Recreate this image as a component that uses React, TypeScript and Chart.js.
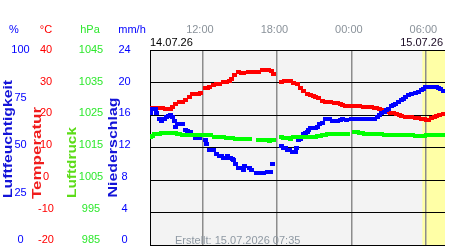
import React, { useEffect, useRef } from "react";
import { Chart, registerables } from "chart.js";

Chart.register(...registerables);

const FONT = "'Liberation Sans', Arial, sans-serif";

// time axis: hours since 14.07.26 00:00
const X_MIN = 7.78;
const X_MAX = 31.54;
const HIGHLIGHT_FROM = 29.72;
const TIME_TICKS = [12, 18, 24, 30];
const TIME_LABELS = ["12:00", "18:00", "00:00", "06:00"];
const DATE_START = "14.07.26";
const DATE_END = "15.07.26";
const CREATED = "Erstellt: 15.07.2026 07:35";

const HUM_TICKS = [100, 75, 50, 25, 0];
const TEMP_TICKS = [40, 30, 20, 10, 0, -10, -20];
const PRES_TICKS = [1045, 1035, 1025, 1015, 1005, 995, 985];
const RAIN_TICKS = [24, 20, 16, 12, 8, 4, 0];

const tempTimes = [7.86, 8.17, 8.49, 8.81, 9.05, 9.28, 9.44, 9.6, 9.84, 10.15, 10.39, 10.63, 10.94, 11.18, 11.42, 11.66, 11.82, 12.21, 12.45, 12.61, 12.93, 13.16, 13.4, 13.72, 13.96, 14.19, 14.35, 14.59, 14.91, 15.14, 15.3, 15.7, 15.94, 16.26, 16.49, 16.81, 17.13, 17.36, 17.6, 17.76, 18.39, 18.63, 18.87, 19.1, 19.34, 19.66, 19.9, 20.13, 20.45, 20.69, 20.93, 21.08, 21.32, 21.64, 21.88, 22.11, 22.35, 22.67, 22.91, 23.14, 23.3, 23.54, 23.7, 24.01, 24.25, 24.49, 24.65, 24.96, 25.2, 25.44, 25.6, 25.84, 26.0, 26.23, 26.39, 26.63, 26.79, 27.02, 27.18, 27.42, 27.66, 27.9, 28.06, 28.37, 28.61, 28.85, 29.17, 29.4, 29.64, 29.88, 30.04, 30.2, 30.44, 30.68, 30.83, 31.07, 31.39];
const tempValues = [22.1, 22.1, 22.1, 22.1, 21.7, 21.7, 21.7, 22.4, 23.4, 23.9, 23.9, 24.7, 25.4, 26.4, 26.4, 26.6, 26.8, 28.2, 28.4, 28.6, 29.1, 29.4, 29.6, 30.1, 30.1, 30.4, 31.2, 32.2, 33.2, 33.0, 32.8, 33.3, 33.2, 33.3, 33.3, 33.7, 33.7, 33.7, 33.4, 32.7, 30.3, 30.4, 30.6, 30.6, 30.0, 29.4, 28.2, 27.4, 26.6, 26.2, 25.7, 25.4, 25.1, 24.4, 24.1, 23.9, 23.9, 23.6, 23.6, 23.4, 23.2, 22.9, 22.9, 22.8, 22.7, 22.7, 22.7, 22.5, 22.4, 22.4, 22.4, 22.2, 22.1, 21.8, 21.4, 21.2, 21.1, 20.9, 20.7, 20.5, 20.2, 19.9, 19.7, 19.5, 19.4, 19.3, 19.1, 19.0, 18.9, 18.7, 18.4, 18.6, 19.1, 19.4, 19.7, 20.0, 20.4];

const humTimes = [7.86, 8.02, 8.25, 8.33, 8.57, 8.73, 8.97, 9.12, 9.28, 9.44, 9.6, 9.76, 9.84, 9.99, 10.15, 10.39, 10.63, 10.79, 11.02, 11.18, 11.42, 11.58, 11.74, 12.21, 12.37, 12.61, 12.77, 12.93, 13.16, 13.4, 13.56, 13.72, 13.88, 14.04, 14.27, 14.43, 14.51, 14.67, 14.91, 15.14, 15.3, 15.38, 15.78, 15.94, 16.33, 16.57, 16.73, 16.89, 17.28, 17.52, 17.68, 18.39, 18.55, 18.71, 18.87, 19.03, 19.26, 19.5, 19.58, 19.74, 19.9, 20.13, 20.29, 20.45, 20.53, 20.69, 20.85, 21.08, 21.24, 21.4, 21.64, 21.88, 22.11, 22.27, 22.51, 22.67, 22.91, 23.14, 23.3, 23.62, 24.01, 24.25, 24.49, 24.73, 24.96, 25.2, 25.44, 25.68, 25.84, 26.07, 26.23, 26.39, 26.63, 26.79, 27.02, 27.26, 27.42, 27.58, 27.82, 28.06, 28.22, 28.37, 28.61, 28.85, 29.17, 29.4, 29.64, 29.8, 29.96, 30.2, 30.44, 30.68, 30.83, 30.99, 31.15, 31.39];
const humValues = [67.8, 69.8, 69.8, 67.8, 64.8, 63.8, 64.8, 65.8, 66.3, 66.8, 65.6, 63.8, 60.6, 61.8, 61.8, 61.8, 58.9, 58.4, 57.8, 56.5, 54.8, 54.8, 54.8, 53.8, 51.8, 48.7, 48.7, 48.7, 46.7, 45.6, 45.6, 44.7, 44.7, 45.6, 44.7, 44.2, 43.4, 41.7, 39.7, 39.7, 38.5, 40.5, 39.7, 38.5, 36.7, 36.7, 36.7, 36.7, 37.5, 37.5, 41.7, 50.8, 49.7, 49.7, 48.7, 48.7, 47.6, 47.6, 49.7, 53.6, 54.6, 56.8, 57.3, 57.8, 58.9, 59.8, 59.8, 60.2, 60.6, 61.8, 62.8, 64.8, 64.8, 64.8, 63.8, 63.8, 63.8, 64.3, 64.8, 64.0, 64.5, 64.5, 64.5, 64.5, 64.5, 64.5, 64.5, 64.5, 64.5, 65.6, 66.7, 67.7, 68.4, 69.0, 69.8, 71.2, 71.8, 72.4, 73.5, 74.5, 75.1, 75.7, 76.9, 77.5, 77.9, 78.6, 79.6, 80.2, 80.8, 80.9, 80.9, 80.9, 80.9, 80.4, 79.9, 78.9];

const presTimes = [7.86, 8.02, 8.17, 8.41, 8.57, 8.73, 8.97, 9.2, 9.44, 9.68, 9.84, 9.99, 10.15, 10.39, 10.63, 10.87, 11.1, 11.34, 11.58, 11.82, 12.21, 12.45, 12.69, 13.01, 13.24, 13.48, 13.72, 13.96, 14.19, 14.43, 14.67, 14.91, 15.14, 15.38, 15.78, 16.49, 16.73, 16.97, 17.28, 17.44, 17.6, 17.76, 18.39, 18.55, 18.79, 18.95, 19.1, 19.34, 19.5, 19.74, 19.9, 20.13, 20.37, 20.61, 20.85, 21.08, 21.24, 21.48, 21.64, 21.88, 22.11, 22.27, 22.51, 22.75, 22.98, 23.22, 23.46, 23.7, 24.25, 24.49, 24.65, 24.88, 25.04, 25.28, 25.44, 25.68, 25.92, 26.15, 26.39, 26.63, 26.87, 27.26, 27.5, 27.74, 27.98, 28.22, 28.45, 28.69, 28.93, 29.17, 29.4, 29.64, 29.88, 30.04, 30.28, 30.52, 30.75, 30.99, 31.23, 31.46];
const presValues = [1018.2, 1018.6, 1019.1, 1019.1, 1019.1, 1019.4, 1019.4, 1019.4, 1019.4, 1019.4, 1019.4, 1019.2, 1019.1, 1018.9, 1018.9, 1018.9, 1018.9, 1018.9, 1018.9, 1018.9, 1018.7, 1018.7, 1018.7, 1018.3, 1018.3, 1018.3, 1018.3, 1017.9, 1017.9, 1017.9, 1017.7, 1017.6, 1017.6, 1017.6, 1017.6, 1017.2, 1017.2, 1017.2, 1017.2, 1017.0, 1017.2, 1017.2, 1018.1, 1017.8, 1017.8, 1017.8, 1017.6, 1018.3, 1018.3, 1018.3, 1018.2, 1018.2, 1018.2, 1018.2, 1018.2, 1018.3, 1018.5, 1018.5, 1018.7, 1019.0, 1019.3, 1019.3, 1019.3, 1019.3, 1019.3, 1019.3, 1019.3, 1019.3, 1019.7, 1019.7, 1019.6, 1019.4, 1019.2, 1019.2, 1019.3, 1019.2, 1019.2, 1019.1, 1019.1, 1019.0, 1018.9, 1018.7, 1018.7, 1018.7, 1018.7, 1018.7, 1018.7, 1018.7, 1018.7, 1018.4, 1018.4, 1018.4, 1018.4, 1018.7, 1018.7, 1018.7, 1018.7, 1018.7, 1018.7, 1018.7];

const BLUE = "#0000ff";
const RED = "#ff0000";
const GREEN = "#00ff00";

function makeMark(color: string) {
  const c = document.createElement("canvas");
  c.width = 5;
  c.height = 4;
  const g = c.getContext("2d")!;
  g.fillStyle = color;
  g.fillRect(0, 0, 5, 4);
  return c;
}

const backgroundPlugin = {
  id: "plotBackground",
  beforeDraw(chart: any) {
    const { ctx, chartArea } = chart;
    const x = chart.scales.x;
    ctx.save();
    ctx.fillStyle = "#f3f3f3";
    ctx.fillRect(chartArea.left, chartArea.top, chartArea.right - chartArea.left, chartArea.bottom - chartArea.top);
    const hx = x.getPixelForValue(HIGHLIGHT_FROM);
    ctx.fillStyle = "#ffffa6";
    ctx.fillRect(hx, chartArea.top, chartArea.right - hx, chartArea.bottom - chartArea.top);
    ctx.restore();
  },
};

const labelsPlugin = {
  id: "sideLabels",
  afterDraw(chart: any) {
    const { ctx, chartArea } = chart;
    const x = chart.scales.x;
    ctx.save();
    ctx.font = `11px ${FONT}`;
    ctx.textBaseline = "middle";
    ctx.textAlign = "center";

    // unit headers
    const headerY = 30;
    ctx.fillStyle = BLUE;
    ctx.fillText("%", 14, headerY);
    ctx.fillStyle = RED;
    ctx.fillText("°C", 46, headerY);
    ctx.fillStyle = "#2ee82e";
    ctx.fillText("hPa", 90, headerY);
    ctx.fillStyle = BLUE;
    ctx.fillText("mm/h", 132, headerY);

    // left tick columns
    const top = chartArea.top;
    const bottom = chartArea.bottom - 4.6;
    const rowY = (i: number, n: number) => top + ((bottom - top) * i) / (n - 1);
    ctx.fillStyle = BLUE;
    HUM_TICKS.forEach((v, i) => ctx.fillText(String(v), 20.5, rowY(i, HUM_TICKS.length)));
    ctx.fillStyle = RED;
    TEMP_TICKS.forEach((v, i) => ctx.fillText(String(v), 46, rowY(i, TEMP_TICKS.length)));
    ctx.fillStyle = "#2ee82e";
    PRES_TICKS.forEach((v, i) => ctx.fillText(String(v), 91, rowY(i, PRES_TICKS.length)));
    ctx.fillStyle = BLUE;
    RAIN_TICKS.forEach((v, i) => ctx.fillText(String(v), 124.5, rowY(i, RAIN_TICKS.length)));

    // rotated axis titles
    const rot = (text: string, cx: number, yStart: number, len: number, color: string) => {
      ctx.save();
      ctx.font = `bold 13px ${FONT}`;
      const w = ctx.measureText(text).width;
      ctx.translate(cx, yStart);
      ctx.rotate(-Math.PI / 2);
      ctx.scale(len / w, 1);
      ctx.textAlign = "left";
      ctx.textBaseline = "middle";
      ctx.fillStyle = color;
      ctx.fillText(text, 0, 0);
      ctx.restore();
    };
    rot("Luftfeuchtigkeit", 8, 198, 118, "#1414d8");
    rot("Temperatur", 37, 199, 92, "#f01c1c");
    rot("Luftdruck", 72.5, 198, 71, "#5cdc18");
    rot("Niederschlag", 113, 197.5, 100, "#1414d8");

    // time labels on top
    ctx.font = `11px ${FONT}`;
    ctx.textAlign = "center";
    ctx.fillStyle = "#8a929a";
    TIME_TICKS.forEach((t, i) => ctx.fillText(TIME_LABELS[i], x.getPixelForValue(t) - 2.5, 30));

    // dates
    ctx.fillStyle = "#000000";
    ctx.textAlign = "left";
    ctx.fillText(DATE_START, chartArea.left, 43);
    ctx.fillStyle = "#1a0a24";
    ctx.textAlign = "right";
    ctx.fillText(DATE_END, chartArea.right - 2, 43);

    // creation stamp
    ctx.fillStyle = "#8f99a3";
    ctx.textAlign = "left";
    ctx.fillText(CREATED, 175, 240.5);
    ctx.restore();
  },
};

export default function App() {
  const ref = useRef<HTMLCanvasElement>(null);
  useEffect(() => {
    document.body.style.margin = "0";
    const canvas = ref.current!;
    const pts = (ts: number[], vs: number[]) => ts.map((t, i) => ({ x: t, y: vs[i] }));
    const chart = new Chart(canvas, {
      type: "scatter",
      data: {
        datasets: [
          { label: "Luftdruck", data: pts(presTimes, presValues), yAxisID: "yP", pointStyle: makeMark(GREEN) as any, pointRadius: 3, showLine: false },
          { label: "Luftfeuchtigkeit", data: pts(humTimes, humValues), yAxisID: "yH", pointStyle: makeMark(BLUE) as any, pointRadius: 3, showLine: false },
          { label: "Temperatur", data: pts(tempTimes, tempValues), yAxisID: "yT", pointStyle: makeMark(RED) as any, pointRadius: 3, showLine: false },
        ],
      },
      options: {
        animation: false,
        responsive: false,
        devicePixelRatio: 1,
        layout: { padding: { left: 150, top: 50, right: 0, bottom: 1 } },
        plugins: { legend: { display: false }, tooltip: { enabled: false } },
        scales: {
          x: {
            type: "linear",
            min: X_MIN,
            max: X_MAX,
            ticks: { display: false },
            grid: { color: "#8c8c8c", lineWidth: 1.5, drawTicks: false },
            border: { display: false },
            afterBuildTicks: (s: any) => {
              s.ticks = TIME_TICKS.map((v) => ({ value: v }));
            },
            afterFit: (s: any) => {
              s.height = 0;
            },
          },
          yT: {
            position: "left",
            min: -20,
            max: 40,
            ticks: { display: false, stepSize: 10 },
            grid: { color: "#000000", lineWidth: 1, drawTicks: false },
            border: { display: true, color: "#000000", width: 1 },
            afterFit: (s: any) => {
              s.width = 0;
            },
          },
          yH: { display: false, min: 0, max: 100 },
          yP: { display: false, min: 985, max: 1045 },
        },
      } as any,
      plugins: [backgroundPlugin, labelsPlugin],
    });
    return () => chart.destroy();
  }, []);
  return <canvas ref={ref} width={450} height={250} style={{ display: "block" }} />;
}
